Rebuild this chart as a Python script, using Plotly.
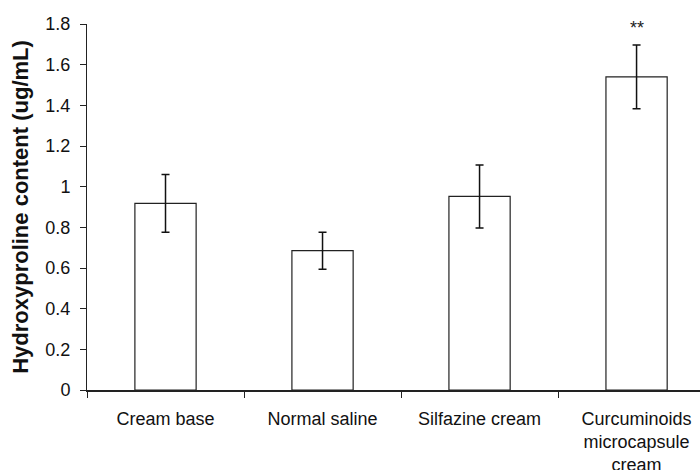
import plotly.graph_objects as go

categories = ["Cream base", "Normal saline", "Silfazine cream", "Curcuminoids<br>microcapsule<br>cream"]
means = [0.918, 0.685, 0.952, 1.540]
errors = [0.142, 0.091, 0.155, 0.157]
y_ticks = [0, 0.2, 0.4, 0.6, 0.8, 1.0, 1.2, 1.4, 1.6, 1.8]
y_ticklabels = ["0", "0.2", "0.4", "0.6", "0.8", "1", "1.2", "1.4", "1.6", "1.8"]
significance = ["", "", "", "**"]

font_family = "Liberation Sans, Arial, sans-serif"

fig = go.Figure()
fig.add_trace(go.Bar(
    x=categories,
    y=means,
    width=0.39,
    marker=dict(color="white", line=dict(color="#222222", width=1.2)),
    error_y=dict(type="data", array=errors, visible=True, color="#111111", thickness=1.5, width=4),
    showlegend=False,
    hoverinfo="skip",
))

for cat, s in zip(categories, significance):
    if s:
        fig.add_annotation(x=cat, y=1.8, text=s, showarrow=False,
                           font=dict(family=font_family, size=18, color="#222222"),
                           yanchor="middle", yshift=-4)

fig.update_layout(
    width=700, height=470,
    margin=dict(l=87, r=0, t=24, b=80, autoexpand=False),
    plot_bgcolor="white", paper_bgcolor="white",
    font=dict(family=font_family, color="#111111"),
)
fig.update_xaxes(
    type="category",
    range=[-0.5, 3.404],
    automargin=False,
    showline=True, linecolor="#222222", linewidth=2,
    ticks="outside", tickson="boundaries", ticklen=6, tickcolor="#222222", tickwidth=1,
    tickfont=dict(size=18, family=font_family, color="#111111"),
    ticklabelstandoff=11,
    showgrid=False, zeroline=False,
)
fig.update_yaxes(
    range=[0, 1.8],
    automargin=False,
    tickvals=y_ticks, ticktext=y_ticklabels,
    showline=True, linecolor="#222222", linewidth=1,
    ticks="outside", ticklen=6, tickcolor="#222222", tickwidth=1,
    tickfont=dict(size=18, family=font_family, color="#111111"),
    ticklabelstandoff=6,
    showgrid=False, zeroline=False,
    title=dict(text="<b>Hydroxyproline content (ug/mL)</b>", font=dict(size=22, family=font_family, color="#111111"), standoff=10),
)

fig.write_html("out.html", config={"displayModeBar": False},
               post_script="document.body.style.margin='0';document.body.style.overflow='hidden';")
